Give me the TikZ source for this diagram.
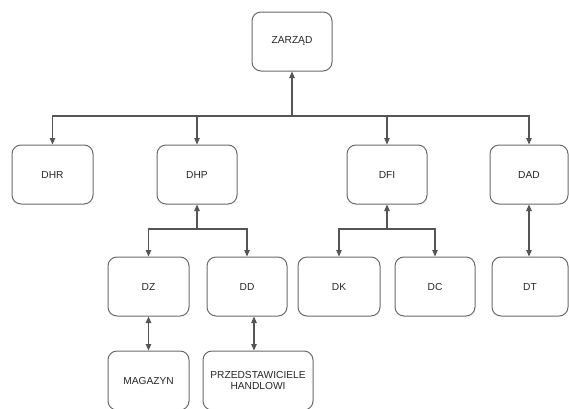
\documentclass[tikz,border=0pt]{standalone}
\usepackage{fontspec}
\setmainfont{Liberation Sans}
\usetikzlibrary{arrows.meta}
\definecolor{boxgray}{HTML}{6A6A6A}
\definecolor{linegray}{HTML}{555555}
\definecolor{txt}{HTML}{262626}
\begin{document}
\begin{tikzpicture}[x=1pt,y=-1pt,
  unit/.style={draw=boxgray, line width=1pt, rounded corners=9pt,
    minimum width=#1, minimum height=59pt, inner sep=1pt,
    font=\fontsize{10.2}{11.5}\selectfont, text=txt, align=center},
  link/.style={draw=linegray, line width=1.15pt, -{Triangle[length=6.5pt,width=5.5pt]}},
  both/.style={draw=linegray, line width=1.15pt,
    {Triangle[length=6.5pt,width=5.5pt]}-{Triangle[length=6.5pt,width=5.5pt]}}]

\useasboundingbox (0,0) rectangle (569,408);
\clip (0,0) rectangle (569,408);

% board
\node[unit=80pt] (zarzad) at (292,41.5) {ZARZĄD};

% departments
\node[unit=81pt] (dhr) at (52.5,174.5) {DHR};
\node[unit=80pt] (dhp) at (197,174.5) {DHP};
\node[unit=80pt] (dfi) at (387,174.5) {DFI};
\node[unit=78pt] (dad) at (529,174.5) {DAD};

% sections
\node[unit=81pt] (dz) at (148.5,286.5) {DZ};
\node[unit=80pt] (dd) at (247,286.5) {DD};
\node[unit=82pt] (dk) at (339,286.5) {DK};
\node[unit=80pt] (dc) at (435,286.5) {DC};
\node[unit=76pt] (dt) at (530,286.5) {DT};

% bottom level
\node[unit=81pt] (magazyn) at (148.5,380.5) {MAGAZYN};
\node[unit=110pt] (prz) at (258,380.5) {PRZEDSTAWICIELE\\HANDLOWI};

% junction points of the branching connectors
\coordinate (top) at (292,116);
\coordinate (jhp) at (197,229);
\coordinate (jfi) at (387,229);

\draw[link] (top) -- (zarzad.south);
\draw[link] (top) -| (dhr.north);
\draw[link] (top) -| (dhp.north);
\draw[link] (top) -| (dfi.north);
\draw[link] (top) -| (dad.north);

\draw[link] (jhp) -- (dhp.south);
\draw[link] (jhp) -| (dz.north);
\draw[link] (jhp) -| (dd.north);

\draw[link] (jfi) -- (dfi.south);
\draw[link] (jfi) -| (dk.north);
\draw[link] (jfi) -| (dc.north);

\draw[both] (dad.south) -- (dad.south |- dt.north);
\draw[both] (dz.south) -- (magazyn.north);
\draw[both] ([xshift=7pt]dd.south) -- ([xshift=7pt]dd.south |- prz.north);
\end{tikzpicture}
\end{document}
